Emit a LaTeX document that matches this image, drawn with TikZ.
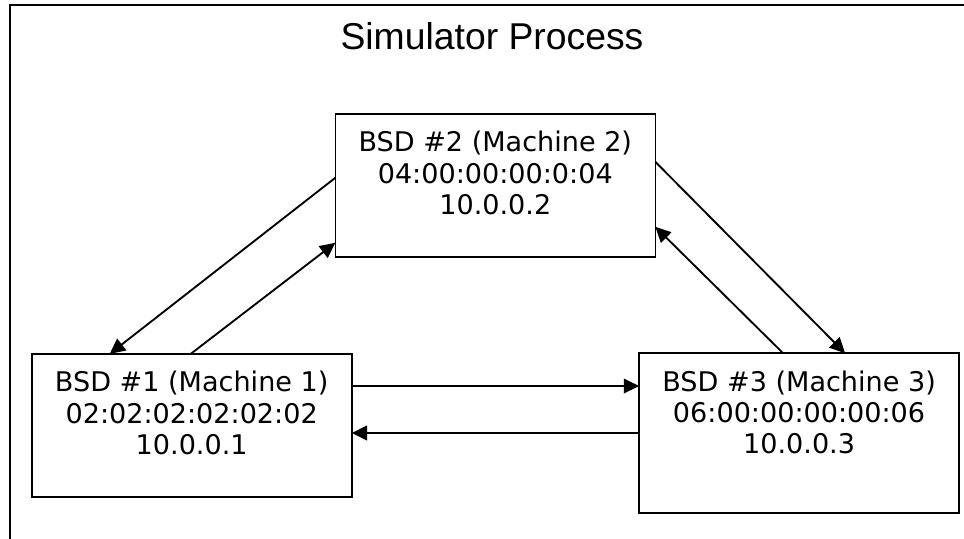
\documentclass[tikz,border=0pt]{standalone}
\usepackage{fontspec}
\setmainfont{DejaVu Sans}
\newfontfamily\titlefont{Liberation Sans}
\usetikzlibrary{arrows.meta,calc}
\tikzset{
  boxnode/.style={draw, line width=1.2pt, minimum width=240pt, outer sep=0pt, inner sep=0pt},
  boxtext/.style={anchor=north, align=center, inner sep=0pt, font=\fontsize{20.3pt}{23.6pt}\selectfont},
  conn/.style={line width=1.4pt, -{Triangle[length=11.5pt,width=11pt]}},
}
\begin{document}
\begin{tikzpicture}[x=0.75pt,y=-0.75pt]
\useasboundingbox (0,0) rectangle (964,539);
\clip (0,0) rectangle (964,539);
\fill[white] (0,0) rectangle (964,539);
\draw[line width=1.6pt] (10,5) rectangle (980,560);
\node[anchor=base, font=\titlefont\fontsize{28pt}{32pt}\selectfont] (title) at (492,49.3) {Simulator Process};
\node[boxnode, minimum height=107.25pt] (b1) at (191.7,425.4) {};
\node[boxnode, minimum height=107.25pt] (b2) at (495.3,185.3) {};
\node[boxnode, minimum height=120pt] (b3) at (799.1,433.2) {};
\node[boxtext] (t1) at ($(b1.north)+(0,17)$) {BSD \#1 (Machine 1)\\02:02:02:02:02:02\\10.0.0.1};
\node[boxtext] (t2) at ($(b2.north)+(0,17)$) {BSD \#2 (Machine 2)\\04:00:00:00:0:04\\10.0.0.2};
\node[boxtext] (t3) at ($(b3.north)+(0,17)$) {BSD \#3 (Machine 3)\\06:00:00:00:00:06\\10.0.0.3};
% connectors
\draw[conn] ($(b2.north west)+(0,64)$) -- ($(b1.north west)+(78,0)$);
\draw[conn] ($(b1.north west)+(159,0)$) -- ($(b2.north west)+(0,129)$);
\draw[conn] ($(b2.north east)+(0,48)$) -- ($(b3.north west)+(206,0)$);
\draw[conn] ($(b3.north west)+(144,0)$) -- ($(b2.north east)+(0,113)$);
\coordinate (h1) at (0,386);
\coordinate (h2) at (0,433);
\draw[conn] (b1.east |- h1) -- (b3.west |- h1);
\draw[conn] (b3.west |- h2) -- (b1.east |- h2);
\end{tikzpicture}
\end{document}
